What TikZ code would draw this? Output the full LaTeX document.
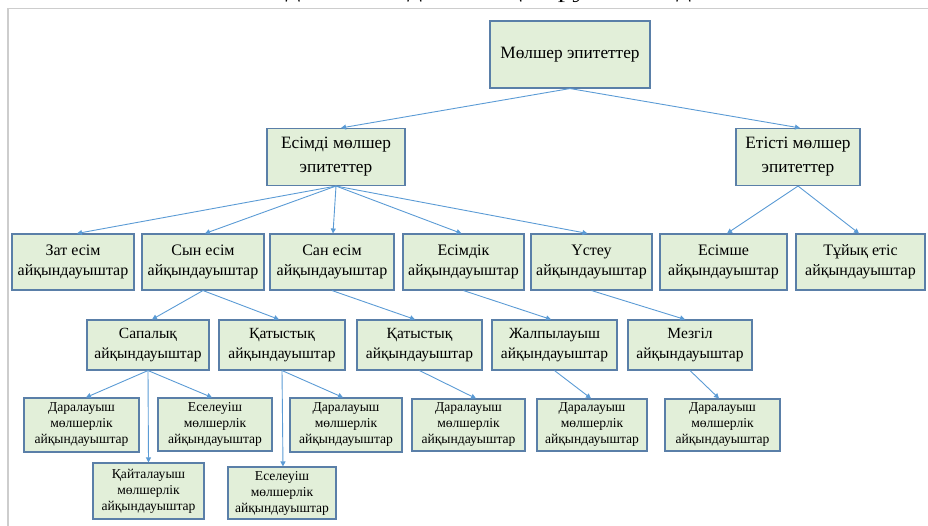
\documentclass[tikz,border=0pt]{standalone}
\usepackage{fontspec}
\setmainfont{Liberation Serif}
\usetikzlibrary{arrows.meta,calc}
\definecolor{boxfill}{HTML}{E2EFD9}
\definecolor{boxline}{HTML}{5A7FA8}
\definecolor{linkblue}{HTML}{5B9BD5}
\definecolor{framegray}{HTML}{CDCDCD}

\begin{document}
\begin{tikzpicture}[x=1pt,y=-1pt,
  box/.style={draw=boxline,fill=boxfill,line width=1.1pt,inner sep=0pt,align=center,
    font=\fontsize{15.5}{20}\selectfont},
  bigbox/.style={box,font=\fontsize{17.3}{24}\selectfont},
  midbox/.style={box,font=\fontsize{16}{20}\selectfont},
  smallbox/.style={box,font=\fontsize{13.6}{16}\selectfont},
  link/.style={draw=linkblue,line width=0.9pt,-{Triangle[length=5pt,width=5pt]}}]

\useasboundingbox (0,0) rectangle (928,526);

% running text of the page above the chart (cut by the page edge)
\begin{scope}
  \clip (0,0) rectangle (928,526);
  \node[anchor=base west,inner sep=0pt,font=\fontsize{19}{22}\selectfont,
        xscale=1.55,transform shape] (lead) at (-2,-1.5)
    {шын сәйкестігін төмендегі кестеден анық көруге болады.};
\end{scope}

% frame of the chart area
\draw[framegray,line width=1.5pt] (8,530) -- (8,8.5) -- (932,8.5);

% level 1
\node[bigbox,minimum width=160pt,minimum height=67pt] (root) at (570,54.5) {Мөлшер эпитеттер};

% level 2
\node[bigbox,minimum width=138pt,minimum height=57pt] (nom) at (336,157) {Есімді мөлшер\\эпитеттер};
\node[bigbox,minimum width=124pt,minimum height=57pt] (verb) at (798,157) {Етісті мөлшер\\эпитеттер};

% level 3
\node[midbox,minimum width=122pt,minimum height=56pt] (zat) at (73,262) {Зат есім\\айқындауыштар};
\node[midbox,minimum width=122pt,minimum height=56pt] (syn) at (203,262) {Сын есім\\айқындауыштар};
\node[midbox,minimum width=124pt,minimum height=56pt] (san) at (332,262) {Сан есім\\айқындауыштар};
\node[midbox,minimum width=121pt,minimum height=56pt] (esimdik) at (463.5,262) {Есімдік\\айқындауыштар};
\node[midbox,minimum width=121pt,minimum height=56pt] (ustew) at (591.5,262) {Үстеу\\айқындауыштар};
\node[midbox,minimum width=127pt,minimum height=56pt] (esimshe) at (723.5,262) {Есімше\\айқындауыштар};
\node[midbox,minimum width=129pt,minimum height=56pt] (tuyik) at (860.5,262) {Тұйық етіс\\айқындауыштар};

% level 4
\node[box,minimum width=122pt,minimum height=50pt] (sapa) at (148,345) {Сапалық\\айқындауыштар};
\node[box,minimum width=126pt,minimum height=50pt] (katA) at (282,345) {Қатыстық\\айқындауыштар};
\node[box,minimum width=125pt,minimum height=50pt] (katB) at (419.5,345) {Қатыстық\\айқындауыштар};
\node[box,minimum width=125pt,minimum height=50pt] (zhal) at (554.5,345) {Жалпылауыш\\айқындауыштар};
\node[box,minimum width=124pt,minimum height=50pt] (mez) at (690,345) {Мезгіл\\айқындауыштар};

% level 5
\node[smallbox,minimum width=115pt,minimum height=54pt] (darA) at (81.5,425) {Даралауыш\\мөлшерлік\\айқындауыштар};
\node[smallbox,minimum width=114pt,minimum height=53pt] (eseA) at (215,424.5) {Еселеуіш\\мөлшерлік\\айқындауыштар};
\node[smallbox,minimum width=112pt,minimum height=54pt] (darB) at (346,425) {Даралауыш\\мөлшерлік\\айқындауыштар};
\node[smallbox,minimum width=113pt,minimum height=52pt] (darC) at (468.5,425) {Даралауыш\\мөлшерлік\\айқындауыштар};
\node[smallbox,minimum width=110pt,minimum height=52pt] (darD) at (592,425) {Даралауыш\\мөлшерлік\\айқындауыштар};
\node[smallbox,minimum width=115pt,minimum height=52pt] (darE) at (722.5,425) {Даралауыш\\мөлшерлік\\айқындауыштар};

% level 6
\node[smallbox,minimum width=111pt,minimum height=56pt] (kait) at (148.5,491) {Қайталауыш\\мөлшерлік\\айқындауыштар};
\node[smallbox,minimum width=108pt,minimum height=52pt] (eseB) at (282,493) {Еселеуіш\\мөлшерлік\\айқындауыштар};

% connectors
\draw[link] (root.south) -- ($(nom.north)+(5,0)$);
\draw[link] (root.south) -- ($(verb.north)+(2,0)$);

\draw[link] (nom.south) -- ($(zat.north)+(4,0)$);
\draw[link] (nom.south) -- ($(syn.north)+(2,0)$);
\draw[link] (nom.south) -- ($(san.north)+(1,0)$);
\draw[link] (nom.south) -- ($(esimdik.north)+(-2,0)$);
\draw[link] (nom.south) -- ($(ustew.north)+(-4,0)$);

\draw[link] (verb.south) -- ($(esimshe.north)+(3.5,0)$);
\draw[link] (verb.south) -- ($(tuyik.north)+(-1.5,0)$);

\draw[link] (syn.south) -- ($(sapa.north)+(4,0)$);
\draw[link] (syn.south) -- ($(katA.north)+(-3,0)$);
\draw[link] (san.south) -- ($(katB.north)+(-4.5,0)$);
\draw[link] (esimdik.south) -- ($(zhal.north)+(-3.5,0)$);
\draw[link] (ustew.south) -- ($(mez.north)+(-5,0)$);

\draw[link] (sapa.south) -- ($(darA.north)+(4.5,0)$);
\draw[link] (sapa.south) -- (kait.north);
\draw[link] (sapa.south) -- ($(eseA.north)+(-3,0)$);
\draw[link] (katA.south) -- ($(eseB.north)+(1,0)$);
\draw[link] (katA.south) -- ($(darB.north)+(-3,0)$);
\draw[link] (katB.south) -- ($(darC.north)+(7.5,0)$);
\draw[link] (zhal.south) -- ($(darD.north)+(-1,0)$);
\draw[link] (mez.south) -- ($(darE.north)+(-3.5,0)$);
\end{tikzpicture}
\end{document}
